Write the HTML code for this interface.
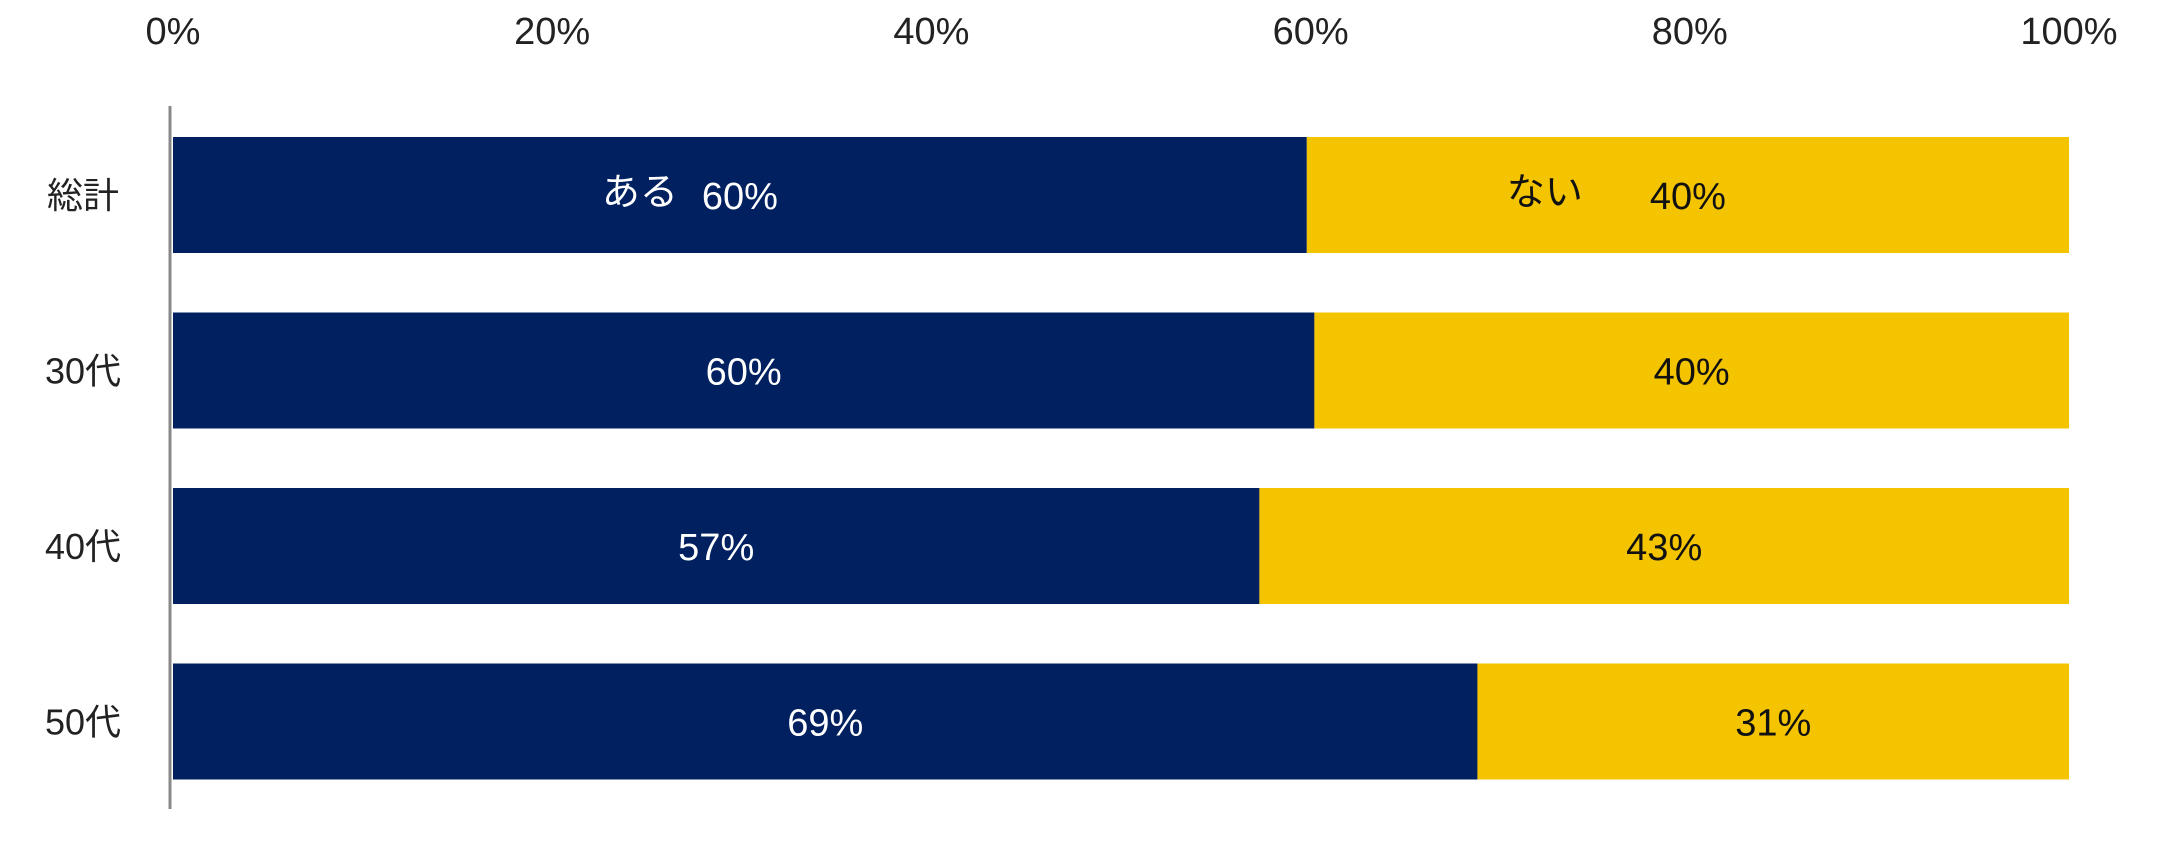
<!DOCTYPE html>
<html><head><meta charset="utf-8"><style>
html,body{margin:0;padding:0;background:#fff;}
svg{display:block;font-family:"Liberation Sans","Noto Sans CJK JP",sans-serif;}
</style></head><body>
<svg id="chart" width="2169" height="853" viewBox="0 0 2169 853"></svg>
<script>
const categories = ["総計","30代","40代","50代"];
const yesValues = [59.8, 60.2, 57.3, 68.8];
const noValues = [40.2, 39.8, 42.7, 31.2];
const yesLabels = ["60%","60%","57%","69%"];
const noLabels = ["40%","40%","43%","31%"];
const tickValues = [0,20,40,60,80,100];

const svg = document.getElementById('chart');
const NS = 'http://www.w3.org/2000/svg';
const x0 = 173, x1 = 2069;
const xScale = v => x0 + (x1 - x0) * v / 100;
const bandTop = 112, bandStep = 175.5, barH = 116, barOff = 25;
const yScale = i => bandTop + i * bandStep + barOff;

function mk(tag, attrs){ const e=document.createElementNS(NS,tag); for(const k in attrs) e.setAttribute(k,attrs[k]); svg.appendChild(e); return e; }

tickValues.forEach(t=>{
  const e = mk('text',{x:xScale(t),y:44,'text-anchor':'middle','font-size':38,fill:'#222'});
  e.textContent = t+'%';
  
  
});

categories.forEach((c,i)=>{
  const y = yScale(i);
  const a = mk('rect',{x:xScale(0),y:y,width:xScale(yesValues[i])-xScale(0),height:barH,fill:'#002060'});
  
  
  const b = mk('rect',{x:xScale(yesValues[i]),y:y,width:xScale(yesValues[i]+noValues[i])-xScale(yesValues[i]),height:barH,fill:'#F5C400'});
  
  
  const cl = mk('text',{x:83,y:y+barH/2+13,'text-anchor':'middle','font-size':36,fill:'#222'});
  cl.textContent = c;
  
  
  const cy = (xScale(0)+xScale(yesValues[i]))/2;
  const ny = (xScale(yesValues[i])+xScale(yesValues[i]+noValues[i]))/2;
  const t1 = mk('text',{x:cy,y:y+barH/2+14,'text-anchor':'middle','font-size':38,fill:'#fff'});
  t1.textContent = yesLabels[i];
  
  
  const t2 = mk('text',{x:ny,y:y+barH/2+14,'text-anchor':'middle','font-size':38,fill:'#111'});
  t2.textContent = noLabels[i];
  
  
  if(i===0){
    const s1 = mk('text',{x:cy-100,y:y+barH/2+10,'text-anchor':'middle','font-size':38,fill:'#fff'});
    s1.textContent = 'ある';
    
    
    const s2 = mk('text',{x:ny-143,y:y+barH/2+10,'text-anchor':'middle','font-size':38,fill:'#111'});
    s2.textContent = 'ない';
    
    
  }
});

const ax = mk('line',{x1:170,y1:106,x2:170,y2:809,stroke:'#888','stroke-width':3});


</script>
</body></html>
